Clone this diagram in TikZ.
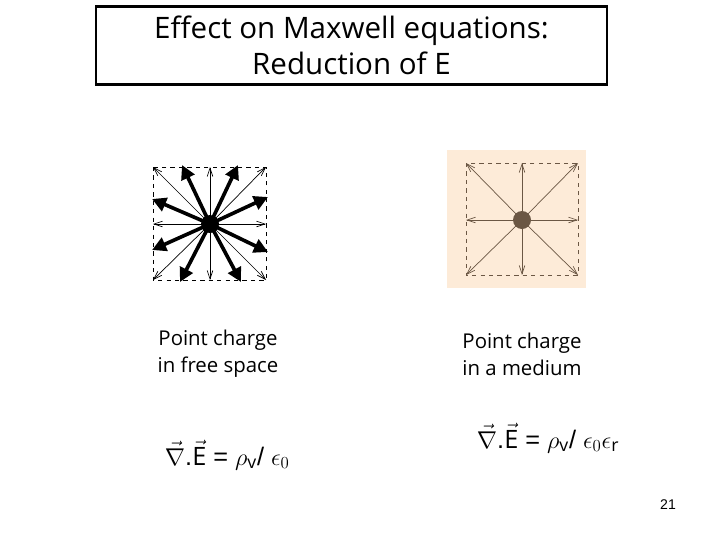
\documentclass[tikz,border=0pt]{standalone}
\usepackage{fontspec}
\setmainfont{Open Sans}
\newfontfamily\eqfont{Liberation Sans}
\usetikzlibrary{positioning,arrows.meta}
\definecolor{mediumbg}{HTML}{FDEBD8}
\definecolor{mediumln}{HTML}{6B5744}
\tikzset{
  thinarr/.style={-{Straight Barb[length=6pt,width=4pt]},line width=0.5pt},
  thickarr/.style={-{Triangle[length=10pt,width=10pt]},line width=2.6pt},
  field/.style={dashed,line width=0.5pt},
  txt/.style={font=\fontsize{14.5}{19}\selectfont,align=center}
}
\begin{document}
\begin{tikzpicture}[x=0.025cm,y=-0.025cm]
  \useasboundingbox (0,0) rectangle (720,540);
  % title
  \node[draw,line width=1.5pt,minimum width=12.75cm,minimum height=1.95cm,align=center,font=\fontsize{21}{26}\selectfont] (title) at (351.5,45.5) {Effect on Maxwell equations:\\Reduction of E};

  % free space
  \draw[field] (153,167) rectangle (266,280);
  \coordinate (q1) at (210,224);
  \foreach \p in {(153,167),(210,167),(266,167),(266,224),(266,280),(210,280),(153,280),(153,224)}
    \draw[thinarr] (q1) -- \p;
  \foreach \p in {(182,165),(238,165),(152,199),(268,197),(152,250),(268,252),(180,282),(241,282)}
    \draw[thickarr] (q1) -- \p;
  \fill (q1) circle (9);

  % medium
  \fill[mediumbg] (447,150) rectangle (586,288);
  \draw[field,mediumln] (466,163) rectangle (578,275);
  \coordinate (q2) at (522,220);
  \foreach \p in {(466,163),(522,163),(578,163),(578,220),(578,275),(522,275),(466,275),(466,220)}
    \draw[thinarr,mediumln] (q2) -- \p;
  \fill[mediumln] (q2) circle (9);

  % labels
  \node[txt] (lbl1) at (218,354) {Point charge\\in free space};
  \node[txt] (lbl2) at (522,354) {Point charge\\in a medium};
  \node[font=\eqfont\fontsize{18}{21}\selectfont,anchor=west] (eq1) at (160,455)
    {$\vec{\nabla}$.$\vec{\mathrm{E}}$ = $\rho_{\mathrm v}$/ $\epsilon_0$};
  \node[font=\eqfont\fontsize{18}{21}\selectfont,anchor=west] (eq2) at (472,438)
    {$\vec{\nabla}$.$\vec{\mathrm{E}}$ = $\rho_{\mathrm v}$/ $\epsilon_0\epsilon_{\mathrm r}$};
  \node[font=\eqfont\fontsize{10}{12}\selectfont] (pg) at (668,505) {21};
\end{tikzpicture}
\end{document}
